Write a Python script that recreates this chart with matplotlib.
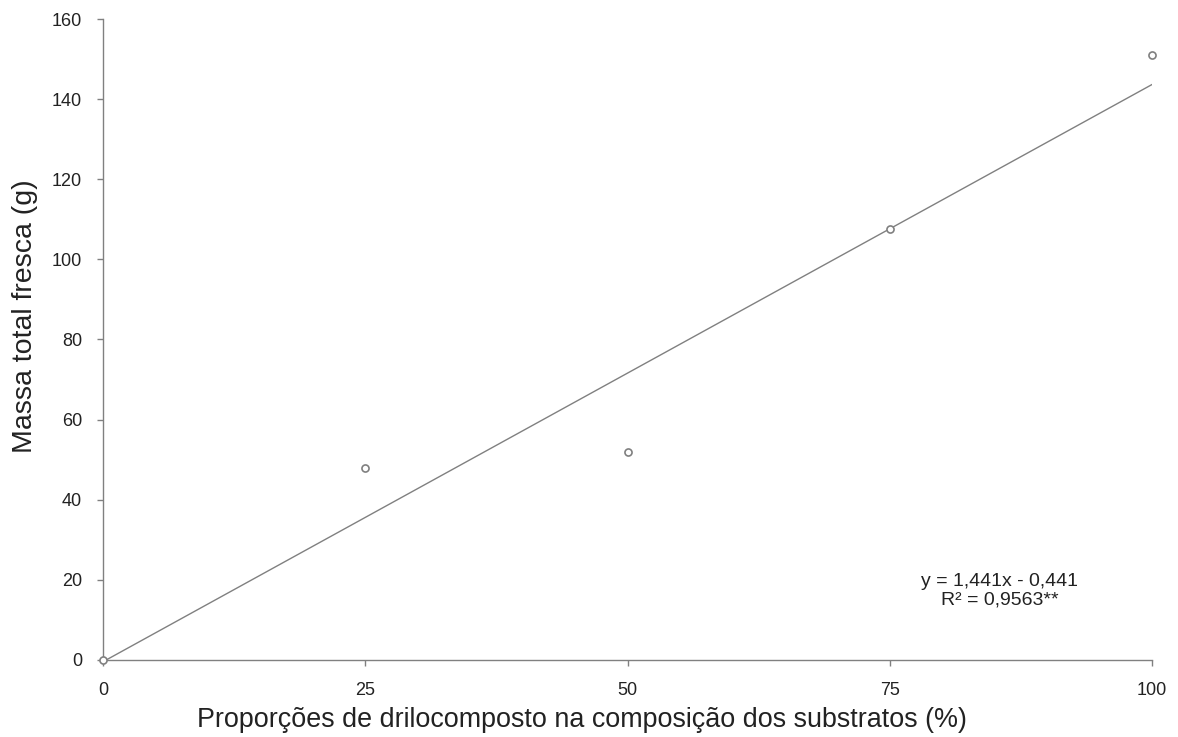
import numpy as np
import matplotlib.pyplot as plt

plt.rcParams["font.family"] = ["Liberation Sans", "DejaVu Sans"]

# data
proporcao = [0, 25, 50, 75, 100]
massa = [0.0, 48.0, 52.0, 107.5, 151.0]
slope = 1.441
intercept = -0.441
eq_text = "y = 1,441x - 0,441\nR² = 0,9563**"

x_ticks = [0, 25, 50, 75, 100]
y_ticks = [0, 20, 40, 60, 80, 100, 120, 140, 160]


def main():
    fig = plt.figure(figsize=(11.78, 7.37), dpi=100)
    ax = fig.add_axes([0.0874, 0.1045, 0.8906, 0.8697])

    gray = "#808080"
    xf = np.array([0, 100])
    ax.plot(xf, slope * xf + intercept, color=gray, lw=1.0, zorder=2)
    ax.scatter(proporcao, massa, s=26, facecolors="white", edgecolors=gray,
               linewidths=1.2, zorder=3, clip_on=False)

    ax.set_xlim(0, 100)
    ax.set_ylim(0, 160)
    ax.set_xticks(x_ticks)
    ax.set_yticks(y_ticks)

    for side in ["top", "right"]:
        ax.spines[side].set_visible(False)
    for side in ["left", "bottom"]:
        ax.spines[side].set_color(gray)
        ax.spines[side].set_linewidth(1.0)
    ax.tick_params(direction="out", length=4, width=1, color=gray,
                   labelsize=13, labelcolor="#222222")
    ax.tick_params(axis="y", pad=11)
    ax.tick_params(axis="x", pad=12)

    ax.set_xlabel("Proporções de drilocomposto na composição dos substratos (%)",
                  fontsize=19.4, color="#222222", va="center")
    ax.xaxis.set_label_coords(0.457, -0.093)
    ax.set_ylabel("Massa total fresca (g)", fontsize=20.5, color="#222222", va="center")
    ax.yaxis.set_label_coords(-0.074, 0.537)

    ax.text(85.5, 17.3, eq_text, ha="center", va="center", fontsize=14,
            color="#222222", linespacing=1.15)

    fig.savefig("out.png", dpi=100)
    plt.close(fig)
    print("Saved: out.png")


if __name__ == "__main__":
    main()
